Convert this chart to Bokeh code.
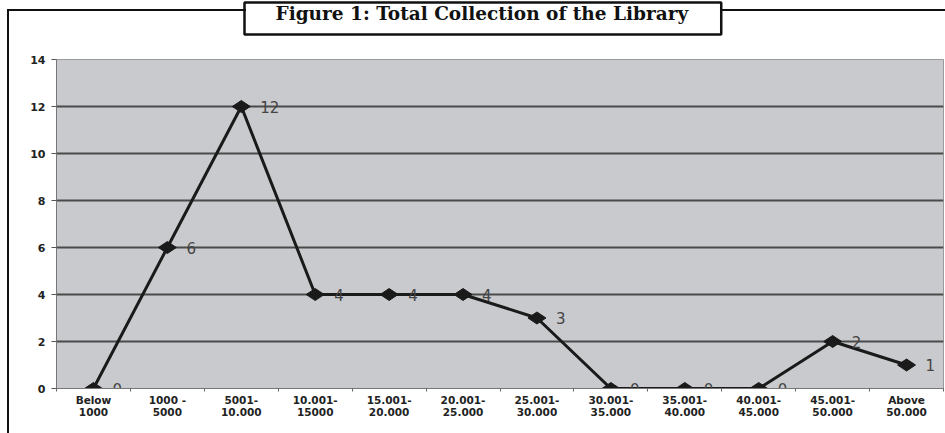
from bokeh.plotting import figure
from bokeh.models import Range1d, FixedTicker, ColumnDataSource, Title, InlineStyleSheet
from bokeh.core.properties import value
from bokeh.embed import file_html
from bokeh.resources import INLINE

# ---- data ----
categories = ["Below\n1000", "1000 -\n5000", "5001-\n10.000", "10.001-\n15000",
              "15.001-\n20.000", "20.001-\n25.000", "25.001-\n30.000", "30.001-\n35.000",
              "35.001-\n40.000", "40.001-\n45.000", "45.001-\n50.000", "Above\n50.000"]
libraries = [0, 6, 12, 4, 4, 4, 3, 0, 0, 0, 2, 1]
y_ticks = [0, 2, 4, 6, 8, 10, 12, 14]
title_text = "Figure 1: Total Collection of the Library"

xs = [i + 0.5 for i in range(len(categories))]
src = ColumnDataSource(dict(x=xs, y=libraries, lab=[str(v) for v in libraries]))

W, H = 945, 433
p = figure(width=W, height=H, output_backend="svg", toolbar_location=None,
           x_range=Range1d(0, 12), y_range=Range1d(0, 14),
           min_border_left=56, min_border_right=2, min_border_top=59, min_border_bottom=45,
           background_fill_color="#c9cacd", border_fill_color="white",
           outline_line_color="#9a9a9a", outline_line_width=1)

# title box
p.title = Title(text=title_text, align="left", offset=188, standoff=0,
                text_font="DejaVu Serif", text_font_style="bold", text_font_size="18.5px",
                text_color="#111111", background_fill_color="white",
                border_line_color="#111111", border_line_width=2.5,
                padding=dict(left=31, right=33, top=0, bottom=11))
# blank space between the title box and the plot area
p.add_layout(Title(text=" ", text_font_size="1px", standoff=22,
                   background_fill_color=None, border_line_color=None), "above")

# outer frame lines
css = """
:host::before { content: ""; position: absolute; left: 7px; top: 9px; width: 237px; height: 440px;
  border-left: 2.5px solid #111; border-top: 2.5px solid #111; z-index: 5; pointer-events: none; }
:host::after { content: ""; position: absolute; left: 722px; top: 9px; width: 240px; height: 0px;
  border-top: 2.5px solid #111; z-index: 5; pointer-events: none; }
"""
p.stylesheets = [InlineStyleSheet(css=css)]

# axes
p.xaxis.ticker = FixedTicker(ticks=xs, minor_ticks=list(range(len(categories) + 1)))
p.xaxis.major_label_overrides = {x: c for x, c in zip(xs, categories)}
p.xaxis.major_tick_out = 0
p.xaxis.major_tick_in = 0
p.xaxis.minor_tick_out = 3
p.xaxis.minor_tick_in = 0
p.xaxis.minor_tick_line_color = "#666666"
p.xaxis.axis_line_color = "#777777"
p.xaxis.major_label_standoff = 2
p.xaxis.major_label_text_font = "DejaVu Sans"
p.xaxis.major_label_text_font_style = "bold"
p.xaxis.major_label_text_font_size = "10.5px"
p.xaxis.major_label_text_color = "#222222"
p.xaxis.major_label_text_line_height = 1.05

p.yaxis.ticker = FixedTicker(ticks=y_ticks)
p.yaxis.major_tick_out = 5
p.yaxis.major_tick_in = 0
p.yaxis.minor_tick_out = 0
p.yaxis.minor_tick_in = 0
p.yaxis.major_tick_line_color = "#555555"
p.yaxis.axis_line_color = "#777777"
p.yaxis.major_label_standoff = 6
p.yaxis.major_label_text_font = "DejaVu Sans"
p.yaxis.major_label_text_font_style = "bold"
p.yaxis.major_label_text_font_size = "11px"
p.yaxis.major_label_text_color = "#222222"

p.xgrid.grid_line_color = None
p.ygrid.grid_line_color = "#4a4a4a"
p.ygrid.grid_line_width = 2

# series
p.line("x", "y", source=src, line_color="#1a1a1a", line_width=3)
p.scatter("x", "y", source=src, marker="diamond", size=18, angle=1.5708,
          fill_color="#1a1a1a", line_color="#1a1a1a")
p.text("x", "y", text="lab", source=src, x_offset=19, text_align="left",
       text_baseline="middle", text_font=value("DejaVu Sans"),
       text_font_size="15px", text_color="#444444")

open("out.html", "w").write(file_html(p, INLINE))
